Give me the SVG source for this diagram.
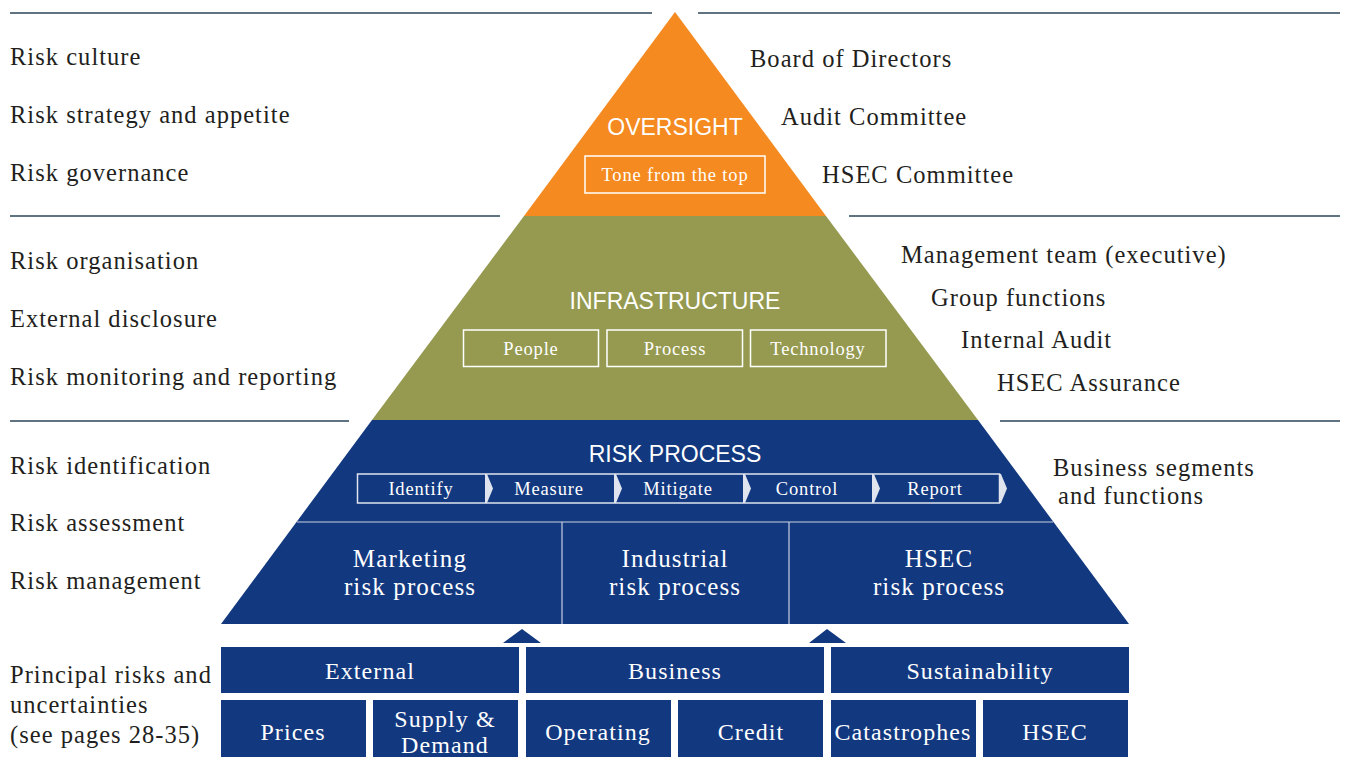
<svg xmlns="http://www.w3.org/2000/svg" width="1346" height="757" viewBox="0 0 1346 757">
<style>
.rule{stroke:#5f7380;stroke-width:2;fill:none}
.lbl{font-family:"Liberation Serif","DejaVu Serif",serif;font-size:24.5px;letter-spacing:0.042em;fill:#231f20}
.hd{font-family:"Liberation Sans",Arial,sans-serif;font-size:23px;fill:#fff;text-anchor:middle}
.wt{font-family:"Liberation Serif","DejaVu Serif",serif;fill:#fff;text-anchor:middle;letter-spacing:0.045em}
.sm{font-size:18.5px}
.md{font-size:25px}
.bt{font-size:24px}
.box{fill:none;stroke:#fff;stroke-width:1.5}
.blue{fill:#12387f}
.chev{fill:#dfe4ef}
.div{stroke:#c9d1e2;stroke-width:1.2}
</style>
<g id="rules">
<line class="rule" x1="10" y1="13" x2="652" y2="13"/>
<line class="rule" x1="698" y1="13" x2="1340" y2="13"/>
<line class="rule" x1="10" y1="216" x2="500" y2="216"/>
<line class="rule" x1="849" y1="216" x2="1340" y2="216"/>
<line class="rule" x1="10" y1="421" x2="349" y2="421"/>
<line class="rule" x1="1000" y1="421" x2="1340" y2="421"/>
</g>
<g id="oversight">
<polygon points="675,12 826,216 524,216" fill="#f48a20"/>
<text class="hd" x="675" y="135">OVERSIGHT</text>
<rect class="box" x="585" y="156" width="180" height="37"/>
<text class="wt sm" x="675" y="181">Tone from the top</text>
</g>
<g id="infrastructure">
<polygon points="524,216 826,216 978,420 372,420" fill="#959a50"/>
<text class="hd" x="675" y="309">INFRASTRUCTURE</text>
<rect class="box" x="463.5" y="330" width="135" height="36.5"/>
<rect class="box" x="607" y="330" width="135.5" height="36.5"/>
<rect class="box" x="750.5" y="330" width="135.5" height="36.5"/>
<text class="wt sm" x="531" y="355">People</text>
<text class="wt sm" x="675" y="355">Process</text>
<text class="wt sm" x="818" y="355">Technology</text>
</g>
<g id="risk-process">
<polygon class="blue" points="372,420 978,420 1129,624 221,624"/>
<text class="hd" x="675" y="462">RISK PROCESS</text>
<rect x="357.5" y="474" width="642" height="29" fill="none" stroke="#dfe4ef" stroke-width="1.5"/>
<polygon class="chev" points="485,474 487,474 493,488.5 487,503 485,503"/>
<polygon class="chev" points="614,474 616,474 622,488.5 616,503 614,503"/>
<polygon class="chev" points="743,474 745,474 751,488.5 745,503 743,503"/>
<polygon class="chev" points="872,474 874,474 880,488.5 874,503 872,503"/>
<polygon class="chev" points="999,474 1001,474 1007,488.5 1001,503 999,503"/>
<text class="wt sm" x="421" y="495">Identify</text>
<text class="wt sm" x="549" y="495">Measure</text>
<text class="wt sm" x="678" y="495">Mitigate</text>
<text class="wt sm" x="807" y="495">Control</text>
<text class="wt sm" x="935" y="495">Report</text>
<line class="div" x1="297" y1="522" x2="1053" y2="522"/>
<line class="div" x1="562" y1="522" x2="562" y2="624"/>
<line class="div" x1="789" y1="522" x2="789" y2="624"/>
<text class="wt md" x="410" y="567">Marketing</text>
<text class="wt md" x="410" y="595">risk process</text>
<text class="wt md" x="675" y="567">Industrial</text>
<text class="wt md" x="675" y="595">risk process</text>
<text class="wt md" x="939" y="567">HSEC</text>
<text class="wt md" x="939" y="595">risk process</text>
</g>
<g id="connectors">
<polygon class="blue" points="503,643 522,629 541,643"/>
<polygon class="blue" points="809,643 827,629 846,643"/>
</g>
<g id="external">
<rect class="blue" x="221" y="647" width="298" height="46"/>
<text class="wt bt" x="370" y="679">External</text>
</g>
<g id="business">
<rect class="blue" x="526" y="647" width="298" height="46"/>
<text class="wt bt" x="675" y="679">Business</text>
</g>
<g id="sustainability">
<rect class="blue" x="831" y="647" width="298" height="46"/>
<text class="wt bt" x="980" y="679">Sustainability</text>
</g>
<g id="prices">
<rect class="blue" x="221" y="700" width="145" height="57"/>
<text class="wt bt" x="293" y="740">Prices</text>
</g>
<g id="supply-demand">
<rect class="blue" x="373" y="700" width="145" height="57"/>
<text class="wt bt" x="445" y="727">Supply &amp;</text>
<text class="wt bt" x="445" y="753">Demand</text>
</g>
<g id="operating">
<rect class="blue" x="526" y="700" width="145" height="57"/>
<text class="wt bt" x="598" y="740">Operating</text>
</g>
<g id="credit">
<rect class="blue" x="678" y="700" width="145" height="57"/>
<text class="wt bt" x="751" y="740">Credit</text>
</g>
<g id="catastrophes">
<rect class="blue" x="831" y="700" width="145" height="57"/>
<text class="wt bt" x="903" y="740">Catastrophes</text>
</g>
<g id="hsec">
<rect class="blue" x="983" y="700" width="145" height="57"/>
<text class="wt bt" x="1055" y="740">HSEC</text>
</g>
<g id="left-labels">
<text class="lbl" x="10" y="65">Risk culture</text>
<text class="lbl" x="10" y="123">Risk strategy and appetite</text>
<text class="lbl" x="10" y="181">Risk governance</text>
<text class="lbl" x="10" y="269">Risk organisation</text>
<text class="lbl" x="10" y="327">External disclosure</text>
<text class="lbl" x="10" y="385">Risk monitoring and reporting</text>
<text class="lbl" x="10" y="474">Risk identification</text>
<text class="lbl" x="10" y="531">Risk assessment</text>
<text class="lbl" x="10" y="589">Risk management</text>
<text class="lbl" x="10" y="683">Principal risks and</text>
<text class="lbl" x="10" y="713">uncertainties</text>
<text class="lbl" x="10" y="743">(see pages 28-35)</text>
</g>
<g id="right-labels">
<text class="lbl" x="750" y="67">Board of Directors</text>
<text class="lbl" x="781" y="125">Audit Committee</text>
<text class="lbl" x="822" y="183">HSEC Committee</text>
<text class="lbl" x="901" y="263">Management team (executive)</text>
<text class="lbl" x="931" y="306">Group functions</text>
<text class="lbl" x="961" y="348">Internal Audit</text>
<text class="lbl" x="997" y="391">HSEC Assurance</text>
<text class="lbl" x="1053" y="476">Business segments</text>
<text class="lbl" x="1058" y="504">and functions</text>
</g>
</svg>
